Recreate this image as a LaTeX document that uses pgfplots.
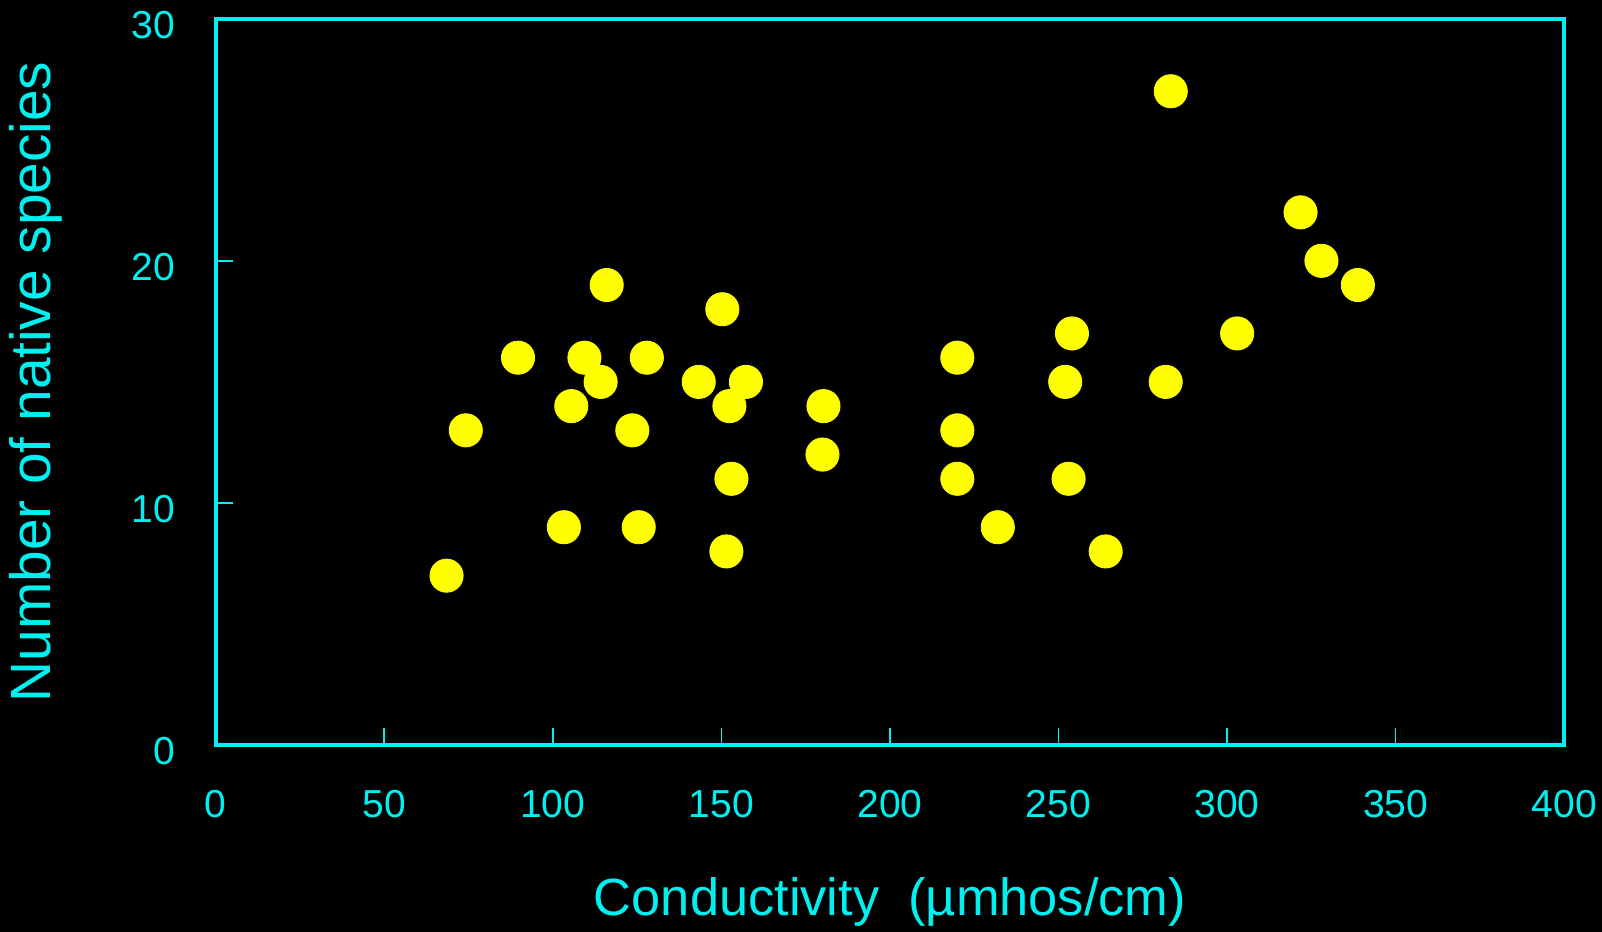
\documentclass[border=0pt]{standalone}
\usepackage{pgfplots}
\pgfplotsset{compat=1.18}
\usepackage{fontspec}
\setmainfont{Liberation Sans}
\definecolor{axcyan}{RGB}{0,240,240}
\definecolor{dotyellow}{RGB}{255,255,0}
\begin{document}
\begin{tikzpicture}
\fill[black] (-107.8pt,-93.4pt) rectangle (693.2pt,372.6pt);
\path[use as bounding box] (-107.8pt,-93.4pt) rectangle (693.2pt,372.6pt);
\begin{axis}[
  at={(0,0)}, anchor=south west,
  scale only axis, width=674.3pt, height=363.3pt,
  xmin=0, xmax=400, ymin=0, ymax=30,
  xtick={0,50,...,400}, ytick={0,10,20,30},
  tick pos=left, tick align=inside,
  major tick length=8.5pt,
  every tick/.style={axcyan, line width=0.8pt},
  axis line style={axcyan, line width=2pt},
  /pgf/number format/assume math mode=true,
  ticklabel style={font=\fontsize{19.5}{20}\selectfont, text=axcyan, inner sep=0pt},
  xticklabel style={anchor=base, yshift=-36pt},
  yticklabel style={anchor=east, xshift=-20pt, yshift=-3pt},
]
\addplot[only marks, mark=*, mark size=8.3pt, mark options={fill=dotyellow, draw=dotyellow}] coordinates {
(68.5,7) (74.2,13) (89.7,16) (103.3,9) (105.5,14) (109.4,16) (114.2,15)
(116,19) (123.6,13) (125.5,9) (127.9,16) (143.3,15) (150.3,18) (152.4,14)
(151.5,8) (153,11) (157.3,15) (180.3,14) (180,12) (220,16) (220,13)
(220,11) (232,9) (254,17) (252,15) (253,11) (264,8) (283.3,27)
(281.8,15) (303,17) (321.8,22) (328,20) (338.8,19)
};
\end{axis}
\node[text=axcyan, font=\fontsize{26.2}{27}\selectfont, anchor=center] at (337.2pt,-78.5pt) {Conductivity\ \ (µmhos/cm)};
\node[text=axcyan, font=\fontsize{28.4}{29}\selectfont, anchor=center, rotate=90] at (-89.8pt,181.6pt) {Number of native species};
\end{tikzpicture}
\end{document}
